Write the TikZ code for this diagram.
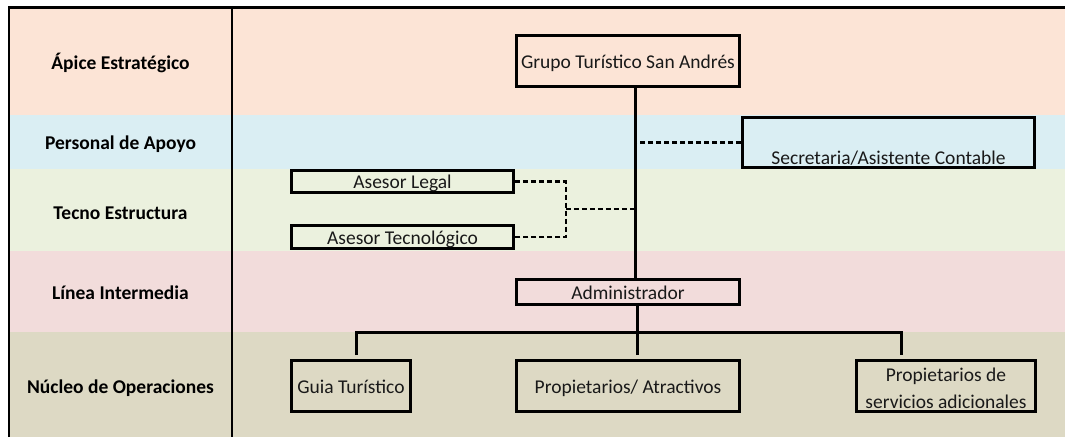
\documentclass[tikz,border=0pt]{standalone}
\usepackage{fontspec}
\setmainfont{Carlito}
\usepackage{tikz}
\usetikzlibrary{positioning, calc}
\definecolor{apicebg}{RGB}{252, 228, 214}
\definecolor{apoyobg}{RGB}{218, 238, 243}
\definecolor{tecnobg}{RGB}{235, 241, 222}
\definecolor{lineabg}{RGB}{242, 220, 219}
\definecolor{nucleobg}{RGB}{221, 217, 196}

\begin{document}
\begin{tikzpicture}[x=1pt, y=-1pt, font=\fontsize{19.5}{25}\selectfont,
    unit/.style={draw=black, line width=2.8pt, inner sep=0pt, text=black!90, text height=16.5pt, text depth=2.5pt},
    level/.style={font=\fontsize{19.5}{25}\selectfont\bfseries},
    conn/.style={line width=3pt},
    staff/.style={line width=2.4pt, dash pattern=on 5pt off 3pt},
    frame/.style={line width=2.5pt}]
                \useasboundingbox (0,0) rectangle (1065,437);

                % --- Bands ---
                \fill[apicebg] (9,7.5) rectangle (1065,115);
                \fill[apoyobg] (9,115) rectangle (1065,169);
                \fill[tecnobg] (9,169) rectangle (1065,251);
                \fill[lineabg] (9,251) rectangle (1065,332);
                \fill[nucleobg] (9,332) rectangle (1065,437);
                \draw[frame] (9,437) -- (9,7.5) -- (1065,7.5);
                \draw[frame] (232,7.5) -- (232,437);

                % --- Level names ---
                \node[level] (apice) at (120.5,63) {Ápice Estratégico};
                \node[level] (apoyo) at (120.5,144) {Personal de Apoyo};
                \node[level] (tecno) at (120.5,213) {Tecno Estructura};
                \node[level] (linea) at (120.5,293) {Línea Intermedia};
                \node[level] (nucleo) at (120.5,388) {Núcleo de Operaciones};

                % --- Units ---
                \node[unit, minimum width=223pt, minimum height=51pt] (grupo) at (628,61) {Grupo Turístico San Andrés};
                \node[unit, minimum width=292pt, minimum height=50pt, label={[yshift=-16pt, text=black!90]center:Secretaria/Asistente Contable}] (secre) at (888.5,142.5) {};
                \node[unit, minimum width=222pt, minimum height=22pt] (legal) at (402.5,181.5) {Asesor Legal};
                \node[unit, minimum width=222pt, minimum height=23pt] (asetec) at (402.5,237) {Asesor Tecnológico};
                \node[unit, minimum width=223pt, minimum height=25pt] (admin) at (628,292) {Administrador};
                \node[unit, minimum width=119pt, minimum height=51pt] (guia) at (351,386) {Guia Turístico};
                \node[unit, minimum width=223pt, minimum height=51pt] (prop) at (628,386) {Propietarios/ Atractivos};
                \node[unit, minimum width=179pt, minimum height=51pt, align=center, text height=44pt, text depth=0pt, font=\fontsize{19.5}{27}\selectfont] (serv) at (946,386) {Propietarios de\\servicios adicionales};

                % --- Line of authority ---
                \coordinate (spine) at ([xshift=7pt]grupo.south);
                \draw[conn] (spine) -- (spine |- admin.north);
                \draw[conn] ([xshift=9pt]admin.south) -- ([xshift=9pt,yshift=4pt]prop.north);
                \draw[conn] ([xshift=5pt,yshift=4pt]guia.north) -- ++(0,-23) -| ([xshift=-45pt,yshift=4pt]serv.north);

                % --- Staff links (dashed) ---
                \draw[staff] (secre.west) -- (secre.west -| spine);
                \coordinate (tsjoin) at ($(legal.east)!0.5!(asetec.east) + (51,0)$);
                \draw[staff] (legal.east) -| (tsjoin) |- (asetec.east);
                \draw[staff] (tsjoin) -- (tsjoin -| spine);
            \end{tikzpicture}
\end{document}
